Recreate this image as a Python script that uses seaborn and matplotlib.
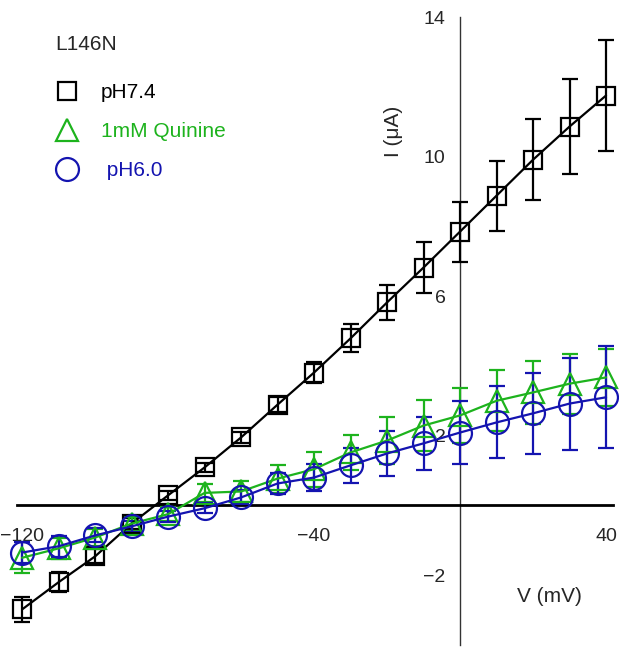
import numpy as np
import pandas as pd
import matplotlib
matplotlib.use("Agg")
import matplotlib.pyplot as plt
import seaborn as sns
from matplotlib.lines import Line2D
from matplotlib.ticker import FixedLocator, FixedFormatter

# datos
voltaje = [-120, -110, -100, -90, -80, -70, -60, -50, -40, -30, -20, -10, 0, 10, 20, 30, 40]
i_ph74 = [-2.98, -2.2, -1.46, -0.52, 0.29, 1.09, 1.95, 2.89, 3.81, 4.79, 5.82, 6.82, 7.85, 8.88, 9.91, 10.86, 11.75]
err_ph74 = [0.37, 0.29, 0.2, 0.15, 0.12, 0.12, 0.15, 0.22, 0.3, 0.4, 0.5, 0.73, 0.86, 1.0, 1.16, 1.35, 1.59]
i_quinina = [-1.5, -1.23, -0.92, -0.52, -0.25, 0.36, 0.4, 0.77, 1.04, 1.52, 1.86, 2.29, 2.58, 3.0, 3.24, 3.49, 3.67]
err_quinina = [0.45, 0.3, 0.25, 0.2, 0.2, 0.25, 0.3, 0.4, 0.5, 0.5, 0.67, 0.74, 0.8, 0.87, 0.9, 0.86, 0.82]
i_ph60 = [-1.35, -1.17, -0.86, -0.6, -0.32, -0.08, 0.23, 0.63, 0.8, 1.15, 1.49, 1.78, 2.09, 2.38, 2.64, 2.92, 3.1]
err_ph60 = [0.3, 0.3, 0.2, 0.15, 0.15, 0.15, 0.2, 0.3, 0.4, 0.5, 0.64, 0.76, 0.9, 1.03, 1.16, 1.32, 1.46]

series = ["pH7.4", "1mM Quinine", " pH6.0"]
colores = ["black", "#1db31d", "#1414b0"]
marcadores = ["s", "^", "o"]
tamanos = [13, 16, 16.5]

x_ticks = [-120, -100, -80, -60, -40, -20, 0, 20, 40]
x_labels = ["\u2212120", "", "", "", "\u221240", "", "", "", "40"]
y_ticks = [-4, -2, 0, 2, 4, 6, 8, 10, 12, 14]
y_labels = ["", "\u22122", "", "2", "", "6", "", "10", "", "14"]

sns.set_style("white")
plt.rcParams["font.family"] = ["Liberation Sans", "DejaVu Sans"]

df = pd.DataFrame({
    "V": voltaje * 3,
    "I": i_ph74 + i_quinina + i_ph60,
    "err": err_ph74 + err_quinina + err_ph60,
    "serie": [s for s in series for _ in voltaje],
})

fig = plt.figure(figsize=(6.19, 6.47), dpi=100)
ax = fig.add_axes([17 / 619, 2 / 647, 596 / 619, 628 / 647])

for serie, color, marker, ms in zip(series, colores, marcadores, tamanos):
    d = df[df["serie"] == serie]
    ax.errorbar(d["V"], d["I"], yerr=d["err"], fmt="none", ecolor=color,
                elinewidth=1.6, capsize=5.5, capthick=1.6, clip_on=False, zorder=3)
    sns.lineplot(data=d, x="V", y="I", ax=ax, color=color, linewidth=1.6,
                 marker=marker, markersize=ms, markerfacecolor="none",
                 markeredgecolor=color, markeredgewidth=1.6, clip_on=False,
                 zorder=4, legend=False)

ax.set_xlim(-121.4, 41.9)
ax.set_ylim(-4, 14)

# ejes cruzando en el origen
for lado in ["top", "right"]:
    ax.spines[lado].set_visible(False)
ax.spines["left"].set_position(("data", 0))
ax.spines["bottom"].set_position(("data", 0))
ax.spines["left"].set_linewidth(1.0)
ax.spines["bottom"].set_linewidth(2.0)
ax.spines["left"].set_color("#333333")
ax.spines["bottom"].set_color("black")

ax.xaxis.set_major_locator(FixedLocator(x_ticks))
ax.xaxis.set_major_formatter(FixedFormatter(x_labels))
ax.yaxis.set_major_locator(FixedLocator(y_ticks))
ax.yaxis.set_major_formatter(FixedFormatter(y_labels))
ax.tick_params(axis="x", direction="inout", length=10, width=1.2, pad=11, labelsize=14)
ax.tick_params(axis="y", direction="inout", length=9, width=1.0, pad=6, labelsize=14)
ax.set_xlabel("")
ax.set_ylabel("")

ax.text(0.631, 0.818, "I (\u03bcA)", transform=ax.transAxes, rotation=90,
        ha="center", va="center", fontsize=15)
ax.text(0.894, 0.078, "V (mV)", transform=ax.transAxes,
        ha="center", va="center", fontsize=15)

# leyenda
fig.text(55 / 619, 1 - 45 / 647, "L146N", ha="left", va="center", fontsize=15)
handles = [Line2D([], [], linestyle="none", marker=m, markersize=s,
                  markerfacecolor="none", markeredgecolor=c, markeredgewidth=1.6)
           for m, s, c in zip(marcadores, tamanos, colores)]
leg = fig.legend(handles, series, loc="upper left",
                 bbox_to_anchor=(44.5 / 619, 1 - 73 / 647), frameon=False,
                 fontsize=15, labelcolor=colores,
                 handlelength=1.2, handletextpad=1.0, labelspacing=0.95,
                 borderpad=0)

fig.savefig("out.png", dpi=100)
